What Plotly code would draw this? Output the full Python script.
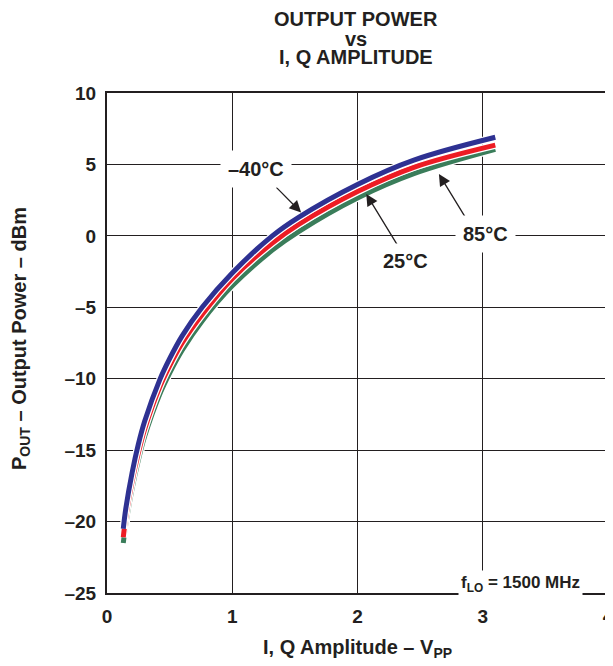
import plotly.graph_objects as go

# Data
amp_m40 = [0.13, 0.15, 0.2, 0.25, 0.3, 0.42, 0.5, 0.6, 0.76, 1.0, 1.32, 1.53, 2.0, 2.45, 3.1]
pout_m40 = [-20.5, -19.1, -16.6, -14.6, -13.0, -10.1, -8.6, -7.0, -5.0, -2.6, 0.0, 1.3, 3.6, 5.3, 6.9]

amp_25 = [0.13, 0.15, 0.2, 0.25, 0.3, 0.42, 0.5, 0.6, 0.76, 1.0, 1.32, 1.53, 2.0, 2.45, 3.1]
pout_25 = [-21.1, -19.7, -17.2, -15.2, -13.55, -10.6, -9.1, -7.5, -5.5, -3.0, -0.5, 0.8, 3.1, 4.8, 6.35]

amp_85 = [0.13, 0.15, 0.2, 0.25, 0.3, 0.42, 0.5, 0.6, 0.76, 1.0, 1.32, 1.53, 2.0, 2.45, 3.1]
pout_85 = [-21.5, -20.2, -17.7, -15.7, -14.05, -11.1, -9.6, -8.0, -5.95, -3.5, -1.0, 0.3, 2.65, 4.35, 6.05]

x_ticks = [0, 1, 2, 3, 4]
x_tick_labels = ["0", "1", "2", "3", "4"]
y_ticks = [-25, -20, -15, -10, -5, 0, 5, 10]
y_tick_labels = ["–25", "–20", "–15", "–10", "–5", "0", "5", "10"]

title_lines = ["OUTPUT POWER", "vs", "I, Q AMPLITUDE"]

FONT = "Liberation Sans, Arial, sans-serif"
INK = "#231f20"
BLUE = "#2e3192"
RED = "#ed1c24"
GREEN = "#3a7d5a"

fig = go.Figure()

series = [
    (amp_85, pout_85, GREEN, "85°C"),
    (amp_25, pout_25, RED, "25°C"),
    (amp_m40, pout_m40, BLUE, "–40°C"),
]
for xs, ys, col, name in series:
    fig.add_trace(go.Scatter(x=xs, y=ys, mode="lines", line=dict(color="white", width=7.5, shape="spline"),
                             hoverinfo="skip", showlegend=False))
    fig.add_trace(go.Scatter(x=xs, y=ys, mode="lines", name=name,
                             line=dict(color=col, width=5, shape="spline"), showlegend=False))

lab_font = dict(family=FONT, size=20, color=INK)
arrow_kw = dict(axref="x", ayref="y", xref="x", yref="y", showarrow=True, arrowhead=2,
                arrowsize=1.8, arrowwidth=1.3, arrowcolor=INK, text="")

# temperature labels with arrows
fig.add_annotation(x=1.55, y=1.64, ax=1.34, ay=3.5, **arrow_kw)
fig.add_annotation(x=1.19, y=4.68, xref="x", yref="y", text="<b>–40°C</b>", showarrow=False,
                   font=lab_font, bgcolor="white", borderpad=7)

fig.add_annotation(x=2.07, y=2.93, ax=2.33, ay=-0.8, **arrow_kw)
fig.add_annotation(x=2.38, y=-1.75, xref="x", yref="y", text="<b>25°C</b>", showarrow=False,
                   font=lab_font, bgcolor="white", borderpad=6)

fig.add_annotation(x=2.65, y=4.33, ax=2.87, ay=1.17, **arrow_kw)
fig.add_annotation(x=3.02, y=0.12, xref="x", yref="y", text="<b>85°C</b>", showarrow=False,
                   font=lab_font, bgcolor="white", borderpad=7)

fig.add_annotation(x=3.3, y=-24.35, xref="x", yref="y", text="<b>f<sub>LO</sub> = 1500 MHz</b>",
                   showarrow=False, font=dict(family=FONT, size=17, color=INK),
                   bgcolor="white", borderpad=2)

# title (three centred lines)
for line, shift in zip(title_lines, [74, 54, 36]):
    fig.add_annotation(x=0.5, y=1.0, xref="paper", yref="paper", yanchor="middle", yshift=shift,
                       xshift=-2, text="<b>%s</b>" % line, showarrow=False,
                       font=dict(family=FONT, size=20, color=INK))

# axis titles
fig.add_annotation(x=0.5, y=0, xref="paper", yref="paper", yanchor="middle", yshift=-55,
                   text="<b>I, Q Amplitude – V<sub>PP</sub></b>", showarrow=False,
                   font=dict(family=FONT, size=20, color=INK))
fig.add_annotation(x=0, y=0.5, xref="paper", yref="paper", xanchor="center", xshift=-87,
                   yshift=4, textangle=-90, text="<b>P<sub>OUT</sub> – Output Power – dBm</b>",
                   showarrow=False, font=dict(family=FONT, size=20, color=INK))

axis_common = dict(showline=True, linecolor=INK, linewidth=2, mirror=True, automargin=False,
                   showgrid=True, gridcolor=INK, gridwidth=1.2, zeroline=False,
                   ticks="outside", tickcolor="rgba(0,0,0,0)", ticklabeloverflow="allow",
                   tickfont=dict(family=FONT, size=19, color=INK))

fig.update_xaxes(range=[0, 4], tickvals=x_ticks, ticktext=["<b>%s</b>" % t for t in x_tick_labels],
                 ticklen=5, **axis_common)
fig.update_yaxes(range=[-25, 10], tickvals=y_ticks, ticktext=["<b>%s</b>" % t for t in y_tick_labels],
                 ticklen=5, **axis_common)

# page has an 8px body margin: plot area lands at x 107-608, y 93-593 in the window
fig.update_layout(width=605, height=658, margin=dict(l=99, r=5, t=85, b=73),
                  plot_bgcolor="white", paper_bgcolor="white", showlegend=False)

fig.write_html("out.html")
